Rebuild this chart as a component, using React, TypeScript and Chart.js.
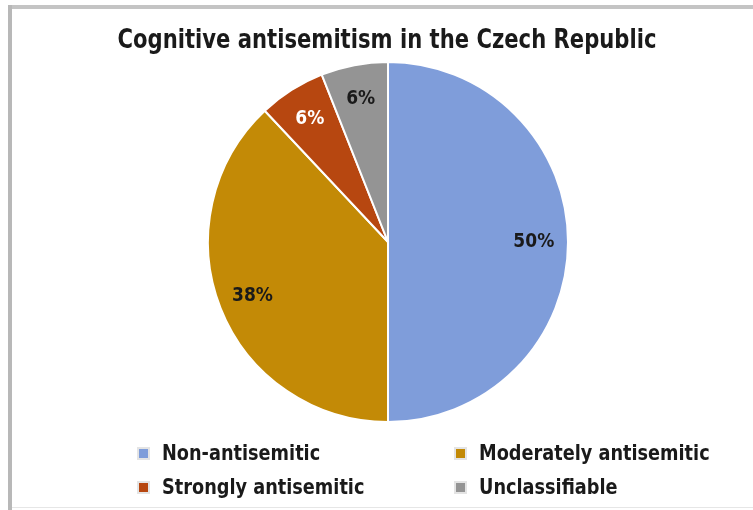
import React, { useEffect, useRef } from "react";
import { Chart, registerables } from "chart.js";

Chart.register(...registerables);

const titleText = "Cognitive antisemitism in the Czech Republic";
const categories = ["Non-antisemitic", "Moderately antisemitic", "Strongly antisemitic", "Unclassifiable"];
const values = [50, 38, 6, 6];
const colors = ["#7F9DDA", "#C38A06", "#B74710", "#949494"];
const labelColors = ["#1a1a1a", "#1a1a1a", "#ffffff", "#1a1a1a"];
const legendOrder = [0, 1, 2, 3];

const FONT = "'Liberation Sans Narrow', 'DejaVu Sans Condensed', sans-serif";

const labelPlugin = {
  id: "sliceLabels",
  afterDatasetsDraw(chart: any) {
    const ctx = chart.ctx;
    const meta = chart.getDatasetMeta(0);
    const total = values.reduce((a, b) => a + b, 0);
    ctx.save();
    ctx.font = `bold 19px ${FONT}`;
    ctx.textAlign = "center";
    ctx.textBaseline = "middle";
    meta.data.forEach((arc: any, i: number) => {
      const p = arc.getProps(["x", "y", "startAngle", "endAngle", "outerRadius"], true);
      const mid = (p.startAngle + p.endAngle) / 2;
      const r = p.outerRadius * 0.81;
      const x = p.x + Math.cos(mid) * r;
      const y = p.y + Math.sin(mid) * r;
      ctx.fillStyle = labelColors[i];
      ctx.fillText(Math.round((values[i] / total) * 100) + "%", x, y);
    });
    ctx.restore();
  },
};

export default function App() {
  const ref = useRef<HTMLCanvasElement>(null);
  useEffect(() => {
    if (!ref.current) return;
    const chart = new Chart(ref.current, {
      type: "pie",
      data: {
        labels: categories,
        datasets: [
          {
            data: values,
            backgroundColor: colors,
            borderColor: "#ffffff",
            borderWidth: 2,
          },
        ],
      },
      options: {
        animation: false,
        responsive: false,
        maintainAspectRatio: false,
        layout: { padding: { top: 61, bottom: 87, left: 23, right: 0 } },
        plugins: {
          legend: { display: false },
          tooltip: { enabled: false },
          title: { display: false },
        },
      },
      plugins: [labelPlugin],
    });
    return () => chart.destroy();
  }, []);

  return (
    <div
      style={{
        position: "fixed",
        left: 0,
        top: 0,
        width: 753,
        height: 510,
        background: "#ffffff",
        overflow: "hidden",
        fontFamily: FONT,
      }}
    >
      <div style={{ position: "absolute", left: 8, top: 5, width: 745, height: 4, background: "#c4c4c4" }} />
      <div style={{ position: "absolute", left: 8, top: 5, width: 4, height: 505, background: "#b8b8b8" }} />
      <div style={{ position: "absolute", left: 12, top: 507, width: 741, height: 1, background: "#e6e6e6" }} />
      <canvas ref={ref} width={753} height={510} style={{ position: "absolute", left: 0, top: 0 }} />
      <div
        style={{
          position: "absolute",
          left: 0,
          top: 23,
          width: 774,
          textAlign: "center",
          fontSize: 23.5,
          fontWeight: "bold",
          color: "#1a1a1a",
          lineHeight: "32px",
          transform: "scaleY(1.12)",
        }}
      >
        {titleText}
      </div>
      {legendOrder.map((idx, k) => {
        const col = k % 2;
        const row = Math.floor(k / 2);
        return (
          <div
            key={idx}
            style={{
              position: "absolute",
              left: col === 0 ? 137 : 454,
              top: 439 + row * 34,
              display: "flex",
              alignItems: "center",
              fontSize: 19.7,
              fontWeight: "bold",
              color: "#1a1a1a",
              lineHeight: "28px",
              whiteSpace: "nowrap",
            }}
          >
            <span
              style={{
                display: "inline-block",
                width: 9,
                height: 9,
                background: colors[idx],
                border: "2px solid #e4e4e4",
                marginRight: 12,
              }}
            />
            <span style={{ display: "inline-block", transform: "scaleY(1.12)" }}>{categories[idx]}</span>
          </div>
        );
      })}
    </div>
  );
}
